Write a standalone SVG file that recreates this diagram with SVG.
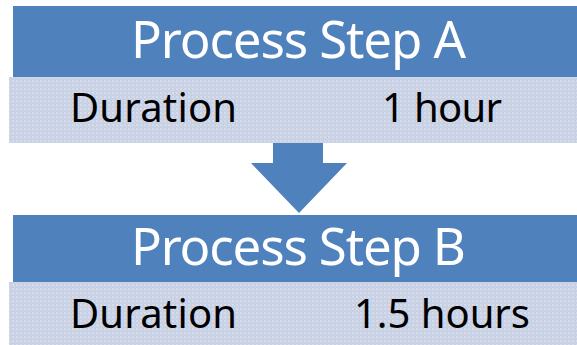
<svg xmlns="http://www.w3.org/2000/svg" width="577" height="345" viewBox="0 0 577 345">
  <defs>
    <!-- fine dotted fill for the detail rows -->
    <pattern id="dots" width="4" height="4" patternUnits="userSpaceOnUse">
      <rect width="4" height="4" fill="#c8d1e4"/>
      <rect x="0" y="0" width="2" height="2" fill="#d6dcec"/>
      <rect x="2" y="2" width="1" height="1" fill="#d3daea"/>
    </pattern>
  </defs>
  <style>
    .head { fill: #4f81bd; }
    .row { fill: url(#dots); }
    .title { font-family: "Noto Sans", "Open Sans", sans-serif; font-size: 51px; fill: #ffffff; }
    .cell { font-family: "Noto Sans", "Open Sans", sans-serif; font-size: 40px; fill: #000000; }
    .arrow { fill: #4f81bd; }
  </style>
  <rect width="577" height="345" fill="#ffffff"/>

  <g id="step-a">
    <rect class="head" x="13" y="6" width="564" height="71"/>
    <rect class="row" x="9" y="77" width="568" height="66"/>
    <text class="title" x="131" y="58" textLength="335" lengthAdjust="spacing">Process Step A</text>
    <text class="cell" x="70" y="122" textLength="167" lengthAdjust="spacing">Duration</text>
    <text class="cell" x="382" y="122" textLength="120" lengthAdjust="spacing">1 hour</text>
  </g>

  <g id="connectors">
    <polygon class="arrow" points="273,143 323,143 323,163 347,163 299,213 251,163 273,163"/>
  </g>

  <g id="step-b">
    <rect class="head" x="13" y="215" width="564" height="67"/>
    <rect class="row" x="9" y="282" width="568" height="63"/>
    <text class="title" x="131" y="265" textLength="335" lengthAdjust="spacing">Process Step B</text>
    <text class="cell" x="70" y="328" textLength="167" lengthAdjust="spacing">Duration</text>
    <text class="cell" x="354" y="328" textLength="176" lengthAdjust="spacing">1.5 hours</text>
  </g>
</svg>
